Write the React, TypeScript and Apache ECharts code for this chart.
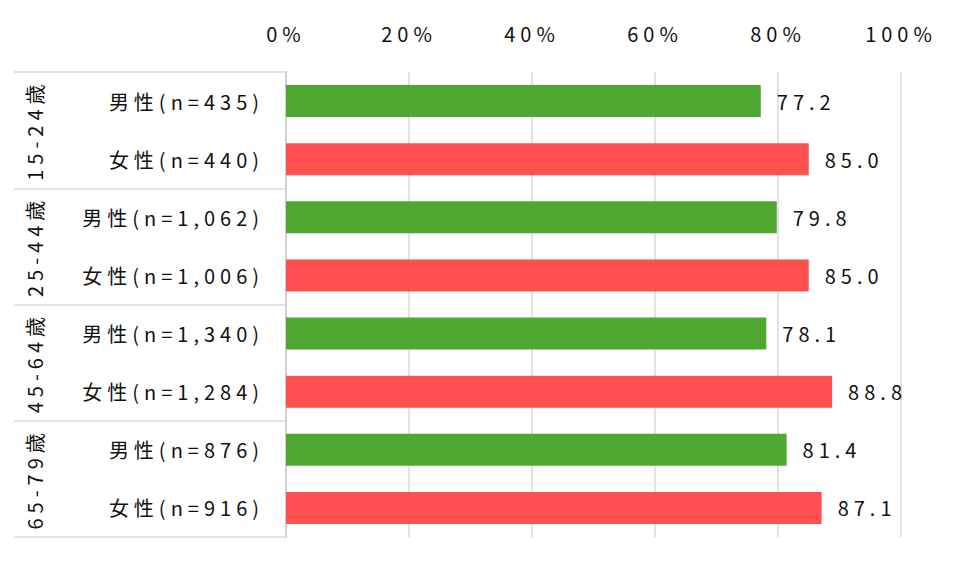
import React, { useEffect, useRef } from "react";
import * as echarts from "echarts";

const categories = [
  "男性(n=435)",
  "女性(n=440)",
  "男性(n=1,062)",
  "女性(n=1,006)",
  "男性(n=1,340)",
  "女性(n=1,284)",
  "男性(n=876)",
  "女性(n=916)",
];
const groups = ["15-24歳", "25-44歳", "45-64歳", "65-79歳"];
const values = [77.2, 85.0, 79.8, 85.0, 78.1, 88.8, 81.4, 87.1];
const genders = ["m", "f", "m", "f", "m", "f", "m", "f"];
const xTicks = { min: 0, max: 100, interval: 20 };

const GREEN = "#4EA72E";
const RED = "#FF4F4F";
const FONT = "'Noto Sans CJK JP', 'Noto Sans', sans-serif";
const TEXT = "#111111";

export default function App() {
  const ref = useRef<HTMLDivElement>(null);
  useEffect(() => {
    document.body.style.margin = "0";
    const chart = echarts.init(ref.current!, null, { renderer: "svg" });
    chart.setOption({
      animation: false,
      backgroundColor: "#ffffff",
      textStyle: { fontFamily: FONT },
      grid: { left: 286, right: 59, top: 72, bottom: 30, containLabel: false },
      xAxis: {
        type: "value",
        position: "top",
        min: xTicks.min,
        max: xTicks.max,
        interval: xTicks.interval,
        axisLine: { show: false },
        axisTick: { show: false },
        axisLabel: {
          formatter: "{value}%",
          fontSize: 20,
          color: TEXT,
          margin: 29,
          fontFamily: FONT,
        },
        splitLine: { show: true, lineStyle: { color: "#d9d9d9", width: 1.5 } },
      },
      yAxis: [
        {
          type: "category",
          data: categories,
          inverse: true,
          axisLine: { show: true, lineStyle: { color: "#d0d0d0", width: 2 } },
          axisTick: { show: false },
          axisLabel: {
            fontSize: 20,
            color: TEXT,
            margin: 22,
            fontFamily: FONT,
          },
        },
        {
          type: "category",
          data: groups,
          inverse: true,
          position: "left",
          axisLine: { show: false },
          axisTick: {
            show: true,
            length: 272,
            lineStyle: { color: "#d9d9d9", width: 1.5 },
          },
          axisLabel: {
            rotate: 90,
            fontSize: 20,
            color: TEXT,
            margin: 242,
            fontFamily: FONT,
          },
        },
      ],
      series: [
        {
          type: "bar",
          yAxisIndex: 0,
          barWidth: "55%",
          data: values.map((v, i) => ({
            value: v,
            itemStyle: { color: genders[i] === "m" ? GREEN : RED },
          })),
          label: {
            show: true,
            position: "right",
            distance: 16,
            fontSize: 20,
            color: TEXT,
            fontFamily: FONT,
            formatter: (p: any) => Number(p.value).toFixed(1),
          },
        },
      ],
    });
    return () => chart.dispose();
  }, []);
  return (
    <>
      <style>{`.chart-root text { letter-spacing: 5px; }`}</style>
      <div className="chart-root" ref={ref} style={{ width: 960, height: 567 }} />
    </>
  );
}
